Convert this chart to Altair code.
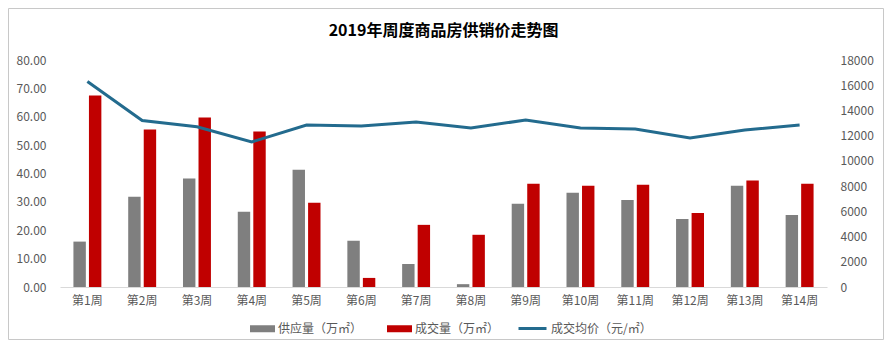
import altair as alt
import pandas as pd

weeks = ["第1周", "第2周", "第3周", "第4周", "第5周", "第6周", "第7周",
         "第8周", "第9周", "第10周", "第11周", "第12周", "第13周", "第14周"]
supply = [16.0, 31.8, 38.2, 26.5, 41.3, 16.3, 8.1, 1.0, 29.3, 33.2, 30.7, 24.0, 35.7, 25.4]
deal = [67.5, 55.5, 59.7, 54.8, 29.7, 3.2, 21.9, 18.4, 36.4, 35.7, 36.0, 26.1, 37.5, 36.4]
price = [16300, 13200, 12700, 11500, 12850, 12770, 13080, 12600, 13240, 12600, 12530, 11820, 12450, 12850]
left_ticks = [0, 10, 20, 30, 40, 50, 60, 70, 80]
right_ticks = [0, 2000, 4000, 6000, 8000, 10000, 12000, 14000, 16000, 18000]

s_supply = "供应量（万㎡）"
s_deal = "成交量（万㎡）"
s_price = "成交均价（元/㎡）"

FONT = "Noto Sans CJK SC"
LABEL = "#595959"

bars_df = pd.DataFrame(
    [{"week": w, "series": s_supply, "value": v} for w, v in zip(weeks, supply)]
    + [{"week": w, "series": s_deal, "value": v} for w, v in zip(weeks, deal)]
)
line_df = pd.DataFrame({"week": weeks, "price": price, "series": [s_price] * len(weeks)})

xscale = alt.Scale(domain=weeks, paddingInner=0.49, paddingOuter=0.245)
xaxis = alt.Axis(title=None, ticks=False, labelAngle=0, labelPadding=8, labelFontSize=12,
                 labelColor=LABEL, labelFont=FONT, domainColor="#d9d9d9", grid=False)

wide_rect = "M-1,-0.28H1V0.28H-1Z"

bars = alt.Chart(bars_df).mark_bar().encode(
    x=alt.X("week:N", scale=xscale, axis=xaxis, sort=weeks),
    xOffset=alt.XOffset("series:N", sort=[s_supply, s_deal],
                        scale=alt.Scale(domain=[s_supply, s_deal], paddingInner=0.2)),
    y=alt.Y("value:Q", scale=alt.Scale(domain=[0, 80], nice=False),
            axis=alt.Axis(title=None, format=".2f", values=left_ticks, labelOverlap=False,
                          ticks=False, domain=False, grid=False, labelPadding=14,
                          labelFontSize=12, labelColor=LABEL, labelFont=FONT)),
    fill=alt.Fill("series:N", scale=alt.Scale(domain=[s_supply, s_deal], range=["#7f7f7f", "#c00000"]),
                  legend=alt.Legend(title=None, orient="none", direction="horizontal",
                                    legendX=190, legendY=256, symbolType=wide_rect, symbolSize=625,
                                    symbolStrokeWidth=0, columnPadding=24, labelFontSize=12,
                                    labelColor=LABEL, labelFont=FONT, labelOffset=3)),
)

line = alt.Chart(line_df).mark_line(strokeWidth=3).encode(
    x=alt.X("week:N", scale=xscale, axis=xaxis, sort=weeks),
    y=alt.Y("price:Q", scale=alt.Scale(domain=[0, 18000], nice=False),
            axis=alt.Axis(title=None, orient="right", format="d", values=right_ticks,
                          labelOverlap=False, ticks=False, domain=False, grid=False, labelPadding=13,
                          labelFontSize=12, labelColor=LABEL, labelFont=FONT)),
    stroke=alt.Stroke("series:N", scale=alt.Scale(domain=[s_price], range=["#236B8E"]),
                      legend=alt.Legend(title=None, orient="none", direction="horizontal",
                                        legendX=457, legendY=253, symbolType="stroke", symbolSize=784,
                                        symbolStrokeWidth=3, labelFontSize=12,
                                        labelColor=LABEL, labelFont=FONT, labelOffset=3)),
)

border = alt.Chart(pd.DataFrame({"a": [0]})).mark_rect(
    fill="transparent", stroke="#c8c8c8", strokeWidth=1
).encode(
    x=alt.value(-51.5), x2=alt.value(823.5), y=alt.value(-51.5), y2=alt.value(279.5)
)

chart = alt.layer(border, bars, line).resolve_scale(
    y="independent", fill="independent", stroke="independent"
).properties(
    width=767, height=227,
    title=alt.TitleParams("2019年周度商品房供销价走势图", font=FONT, fontSize=16,
                          fontWeight="bold", color="#000000", offset=-31, anchor="middle"),
    autosize=alt.AutoSizeParams(type="none"),
    padding={"left": 52, "top": 52, "right": 57, "bottom": 61},
).configure_view(stroke=None)

chart.save("out.html", embed_options={"renderer": "svg", "actions": False})
